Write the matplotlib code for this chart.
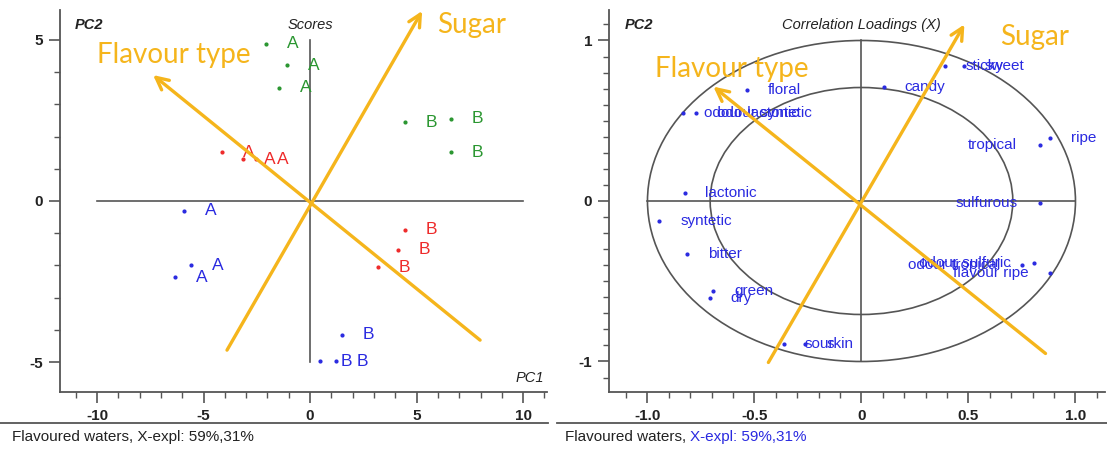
import matplotlib
matplotlib.use("Agg")
import matplotlib.pyplot as plt
from matplotlib.lines import Line2D
from matplotlib.patches import Ellipse
from matplotlib.ticker import FixedLocator, MultipleLocator

# ---- scores (left panel) ----
score_x = [-2.07, -1.08, -1.46, 4.46, 6.62, 6.62,
           -4.13, -3.15, -2.54, 4.46, 4.13, 3.19,
           -5.92, -5.59, -6.34, 1.50, 0.47, 1.22]
score_y = [4.88, 4.22, 3.51, 2.45, 2.55, 1.52,
           1.52, 1.30, 1.30, -0.90, -1.52, -2.05,
           -0.31, -1.99, -2.36, -4.16, -4.97, -4.97]
score_lab = ["A", "A", "A", "B", "B", "B",
             "A", "A", "A", "B", "B", "B",
             "A", "A", "A", "B", "B", "B"]
score_grp = ["g"] * 6 + ["r"] * 6 + ["b"] * 6

# ---- correlation loadings (right panel) ----
load_name = ["floral", "odour lactonic", "odour syntetic", "candy", "sticky", "sweet",
             "tropical", "ripe", "sulfurous", "lactonic", "syntetic", "bitter",
             "green", "dry", "sour", "skin", "odour tropical", "odour sulfuric", "flavour ripe"]
load_x = [-0.537, -0.832, -0.771, 0.103, 0.388, 0.477,
          0.832, 0.883, 0.832, -0.827, -0.944, -0.813,
          -0.692, -0.710, -0.364, -0.262, 0.752, 0.804, 0.883]
load_y = [0.694, 0.55, 0.55, 0.713, 0.838, 0.838,
          0.35, 0.394, -0.013, 0.05, -0.125, -0.331,
          -0.5625, -0.606, -0.894, -0.894, -0.40, -0.388, -0.45]
load_side = ["r", "r", "r", "r", "r", "r",
             "l", "r", "l", "r", "r", "r",
             "r", "r", "r", "r", "l", "l", "l"]

# design arrows (start -> tip)
score_sugar = [(-3.90, -4.63), (5.26, 5.90)]
score_flav = [(7.98, -4.32), (-7.37, 3.91)]
load_sugar = [(-0.435, -1.006), (0.481, 1.10)]
load_flav = [(0.86, -0.95), (-0.692, 0.7125)]

left_xticks = [-10, -5, 0, 5, 10]
left_xlabels = ["-10", "-5", "0", "5", "10"]
left_yticks = [-5, 0, 5]
left_ylabels = ["-5", "0", "5"]
right_xticks = [-1.0, -0.5, 0, 0.5, 1.0]
right_xlabels = ["-1.0", "-0.5", "0", "0.5", "1.0"]
right_yticks = [-1, 0, 1]
right_ylabels = ["-1", "0", "1"]

colors = {"g": "#2a9630", "r": "#ee2a2a", "b": "#2a2ae0"}
orange = "#f5b51c"
blue = "#2a2ae0"
axis_col = "#555555"

plt.rcParams["font.family"] = ["Liberation Sans", "DejaVu Sans"]

fig = plt.figure(figsize=(11.07, 4.5), dpi=100)
ax1 = fig.add_axes([0.0542, 0.1289, 0.4399, 0.8489])
ax2 = fig.add_axes([0.5501, 0.1289, 0.4481, 0.8489])


def style_axes(ax, xlim, ylim, xt, xl, yt, yl, xminor, yminor):
    ax.set_xlim(*xlim)
    ax.set_ylim(*ylim)
    for s in ["top", "right"]:
        ax.spines[s].set_visible(False)
    for s in ["left", "bottom"]:
        ax.spines[s].set_color(axis_col)
        ax.spines[s].set_linewidth(1.3)
    ax.xaxis.set_major_locator(FixedLocator(xt))
    ax.set_xticklabels(xl)
    ax.yaxis.set_major_locator(FixedLocator(yt))
    ax.set_yticklabels(yl)
    ax.xaxis.set_minor_locator(MultipleLocator(xminor))
    ax.yaxis.set_minor_locator(MultipleLocator(yminor))
    ax.tick_params(which="major", length=8, width=1.2, color=axis_col,
                   labelsize=11, pad=4)
    ax.tick_params(which="minor", length=4.5, width=1.0, color=axis_col)
    for t in ax.get_xticklabels() + ax.get_yticklabels():
        t.set_fontweight("bold")
        t.set_color("#222222")


def draw_arrow(ax, pts):
    ax.annotate("", xy=pts[1], xytext=pts[0],
                arrowprops=dict(arrowstyle="->", color=orange, lw=2.4,
                                mutation_scale=22, shrinkA=0, shrinkB=0),
                annotation_clip=False)


# ---- left: scores ----
style_axes(ax1, (-11.74, 11.12), (-5.93, 5.93), left_xticks, left_xlabels,
           left_yticks, left_ylabels, 1, 1)
ax1.plot([-10, 10], [0, 0], color=axis_col, lw=1.2)
ax1.plot([0, 0], [-5, 5], color=axis_col, lw=1.2)
for x, y, lab, g in zip(score_x, score_y, score_lab, score_grp):
    ax1.plot(x, y, "o", ms=2, color=colors[g])
    ax1.annotate(lab, (x, y), xytext=(15, 0), textcoords="offset points",
                 ha="left", va="center", fontsize=12.5, color=colors[g])
draw_arrow(ax1, score_sugar)
draw_arrow(ax1, score_flav)
ax1.text(5.96, 5.47, "Sugar", color=orange, fontsize=20, family="Lato",
         ha="left", va="center")
ax1.text(-10.0, 4.53, "Flavour type", color=orange, fontsize=20, family="Lato",
         ha="left", va="center")
ax1.text(0.031, 0.962, "PC2", transform=ax1.transAxes, style="italic",
         fontsize=10.5, fontweight="bold", color="#222222", ha="left", va="center")
ax1.text(0, 0.962, "Scores", transform=ax1.get_xaxis_transform(), style="italic",
         fontsize=10.5, color="#222222", ha="center", va="center")
ax1.text(0.995, 0.037, "PC1", transform=ax1.transAxes, style="italic",
         fontsize=10.5, color="#222222", ha="right", va="center")

# ---- right: correlation loadings ----
style_axes(ax2, (-1.18, 1.138), (-1.19, 1.19), right_xticks, right_xlabels,
           right_yticks, right_ylabels, 0.1, 0.1)
for r in [1.0, 0.5 ** 0.5]:
    ax2.add_patch(Ellipse((0, 0), 2 * r, 2 * r, fill=False, ec=axis_col, lw=1.2))
ax2.plot([-1, 1], [0, 0], color=axis_col, lw=1.2)
ax2.plot([0, 0], [-1, 1], color=axis_col, lw=1.2)
for x, y, name, side in zip(load_x, load_y, load_name, load_side):
    ax2.plot(x, y, "o", ms=2, color=blue)
    if side == "r":
        ax2.annotate(name, (x, y), xytext=(15, 0), textcoords="offset points",
                     ha="left", va="center", fontsize=11, color=blue)
    else:
        ax2.annotate(name, (x, y), xytext=(-16, 0), textcoords="offset points",
                     ha="right", va="center", fontsize=11, color=blue)
draw_arrow(ax2, load_sugar)
draw_arrow(ax2, load_flav)
ax2.text(0.65, 1.02, "Sugar", color=orange, fontsize=20, family="Lato",
         ha="left", va="center")
ax2.text(-0.963, 0.82, "Flavour type", color=orange, fontsize=20, family="Lato",
         ha="left", va="center")
ax2.text(0.032, 0.962, "PC2", transform=ax2.transAxes, style="italic",
         fontsize=10.5, fontweight="bold", color="#222222", ha="left", va="center")
ax2.text(0, 0.962, "Correlation Loadings (X)", transform=ax2.get_xaxis_transform(),
         style="italic", fontsize=10.5, color="#222222", ha="center", va="center")

# ---- footer ----
fig.add_artist(Line2D([0, 548 / 1107], [0.06, 0.06], color=axis_col, lw=1.3))
fig.add_artist(Line2D([557 / 1107, 1], [0.06, 0.06], color=axis_col, lw=1.3))
fig.text(12 / 1107, 0.028, "Flavoured waters, X-expl: 59%,31%", fontsize=11,
         color="#222222", va="center", ha="left")
t = fig.text(565 / 1107, 0.028, "Flavoured waters, ", fontsize=11,
             color="#222222", va="center", ha="left")
fig.canvas.draw()
bb = t.get_window_extent()
fig.text(bb.x1 / fig.bbox.width, 0.028, "X-expl: 59%,31%", fontsize=11,
         color=blue, va="center", ha="left")

fig.savefig("out.png", dpi=100)
